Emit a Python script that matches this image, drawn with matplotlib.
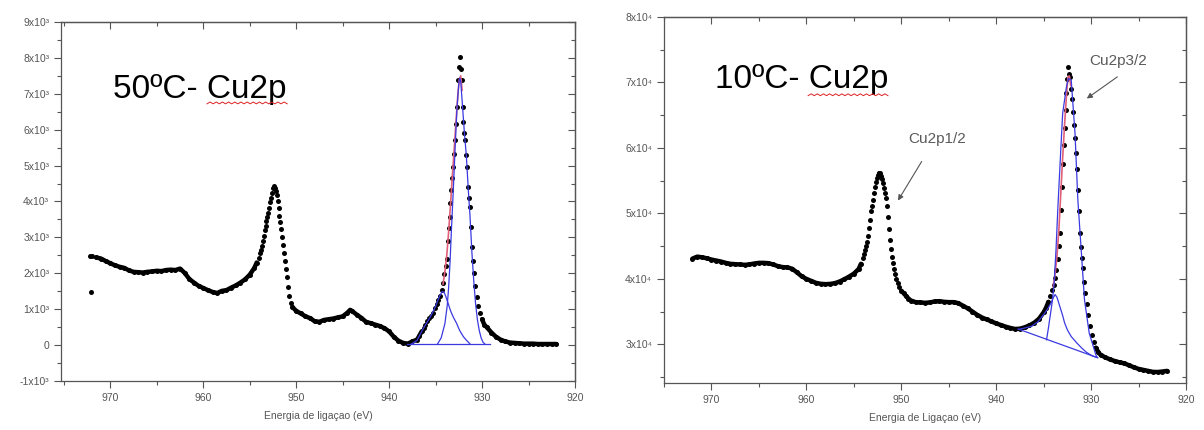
import numpy as np
import matplotlib.pyplot as plt
from matplotlib.ticker import MultipleLocator, FuncFormatter

plt.rcParams['font.family'] = ['Liberation Sans', 'DejaVu Sans']

# ---- 50 C : espectro Cu2p ----
e50 = [972.2, 972.1, 972.0, 971.5, 971.0, 970.5, 970.0, 969.5, 969.0, 968.5, 968.0,
       967.5, 967.0, 966.5, 966.0, 965.5, 965.0, 964.5, 964.0, 963.5, 963.0, 962.5,
       962.0, 961.5, 961.0, 960.5, 960.0, 959.5, 959.0, 958.5, 958.0, 957.5, 957.0,
       956.5, 956.0, 955.5, 955.0, 954.5, 954.25, 954.0,
       953.9, 953.8, 953.7, 953.6, 953.5, 953.4, 953.3, 953.2, 953.1, 953.0, 952.9,
       952.8, 952.7, 952.6, 952.5, 952.4, 952.3, 952.2, 952.1, 952.0, 951.9, 951.8,
       951.7, 951.6, 951.5, 951.4, 951.3, 951.2, 951.1, 951.0, 950.9, 950.8, 950.6, 950.4,
       950.0, 949.5, 949.0, 948.5, 948.0, 947.5, 947.0, 946.5, 946.0, 945.5, 945.0,
       944.5, 944.2, 944.0, 943.5, 943.0, 942.5, 942.0, 941.5, 941.0, 940.5, 940.0,
       939.5, 939.0, 938.5, 938.0, 937.5, 937.0, 936.75, 936.5,
       936.3, 936.1, 935.9, 935.7, 935.5, 935.3, 935.1, 934.9, 934.7, 934.5, 934.35,
       934.2, 934.05, 933.9, 933.8, 933.7, 933.6, 933.5, 933.4, 933.3, 933.2, 933.1,
       933.0, 932.9, 932.8, 932.7, 932.6, 932.5, 932.4, 932.3, 932.2, 932.1, 932.0,
       931.9, 931.8, 931.7, 931.6, 931.5, 931.4, 931.3, 931.2, 931.1, 931.0, 930.9,
       930.75, 930.6, 930.4, 930.2, 930.0, 929.75, 929.5, 929.0, 928.5, 928.0, 927.5,
       927.0, 926.5, 926.0, 925.5, 925.0, 924.5, 924.0, 923.5, 923.0, 922.5, 922.0]
i50 = [2480, 1480, 2470, 2440, 2410, 2340, 2280, 2220, 2180, 2150, 2080,
       2040, 2030, 2020, 2040, 2050, 2070, 2060, 2090, 2100, 2090, 2130,
       2010, 1840, 1740, 1650, 1590, 1530, 1480, 1450, 1510, 1530, 1600,
       1660, 1740, 1830, 1960, 2150, 2300, 2420,
       2560, 2650, 2760, 2900, 3050, 3200, 3330, 3450, 3560, 3680, 3830,
       3980, 4110, 4240, 4380, 4430, 4370, 4280, 4180, 4000, 3820, 3600,
       3420, 3220, 3000, 2780, 2560, 2340, 2110, 1900, 1620, 1360, 1170, 1060,
       950, 880, 800, 750, 660, 650, 700, 720, 740, 770, 800,
       900, 980, 950, 850, 760, 650, 610, 570, 530, 470, 380,
       230, 120, 60, 40, 100, 150, 260, 380,
       470, 560, 680, 760, 820, 900, 1030, 1150, 1250, 1360, 1530,
       1730, 1980, 2200, 2400, 2900, 3250, 3570, 3950, 4320, 4650, 4960,
       5330, 5710, 6150, 6630, 7380, 7750, 8030, 7700, 7380, 6630, 6200,
       5900, 5710, 5300, 4960, 4400, 4100, 3850, 3290, 2730, 2350, 2010,
       1650, 1340, 1100, 890, 720, 560, 500, 350, 230, 150, 100,
       70, 60, 50, 40, 40, 40, 30, 30, 30, 30, 30]

# componentes do ajuste (50 C)
e50_main = [934.8, 934.4, 934.0, 933.75, 933.6, 933.45, 933.3, 933.1, 932.9, 932.7,
            932.5, 932.4, 932.3, 932.1, 931.9, 931.7, 931.5, 931.3, 931.1, 930.9,
            930.7, 930.5, 930.3, 930.1, 929.9, 929.7]
i50_main = [30, 200, 600, 1100, 1600, 2300, 3200, 4300, 5500, 6600,
            7300, 7440, 7350, 6630, 5900, 5300, 4400, 3600, 2600, 1800,
            1150, 700, 400, 200, 80, 30]
e50_sat = [937.6, 937.0, 936.5, 936.0, 935.5, 935.0, 934.6, 934.3, 934.1, 933.9, 933.65,
           933.4, 933.1, 932.75, 932.4, 932.0, 931.7, 931.3]
i50_sat = [30, 130, 380, 600, 820, 1080, 1350, 1490, 1480, 1350, 1160,
           960, 780, 610, 400, 230, 140, 30]
e50_base = [938.1, 929.2]
i50_base = [30, 30]
e50_fit = [934.2, 934.0, 933.8, 933.6, 933.4, 933.2, 933.0, 932.8, 932.6, 932.45, 932.3, 932.15]
i50_fit = [1700, 2050, 2500, 3150, 3900, 4700, 5450, 6250, 7000, 7400, 7500, 7100]

# ---- 10 C : espectro Cu2p ----
e10 = [972.0, 971.5, 971.0, 970.5, 970.0, 969.5, 969.0, 968.5, 968.0, 967.5, 967.0,
       966.5, 966.0, 965.5, 965.0, 964.5, 964.0, 963.5, 963.0, 962.5, 962.0, 961.5,
       961.0, 960.5, 960.0, 959.5, 959.0, 958.5, 958.0, 957.5, 957.0, 956.5, 956.0,
       955.5, 955.0, 954.5, 954.25, 954.0,
       953.9, 953.8, 953.7, 953.6, 953.5, 953.4, 953.3, 953.2, 953.1, 953.0, 952.9,
       952.8, 952.7, 952.6, 952.5, 952.4, 952.3, 952.2, 952.1, 952.0, 951.9, 951.8,
       951.7, 951.6, 951.5, 951.4, 951.3, 951.2, 951.1, 951.0, 950.9, 950.8, 950.7,
       950.55, 950.4, 950.2, 950.0, 949.75, 949.5, 949.25, 949.0,
       948.5, 948.0, 947.5, 947.0, 946.5, 946.0, 945.5, 945.0, 944.5, 944.0, 943.5,
       943.0, 942.5, 942.0, 941.5, 941.0, 940.5, 940.0, 939.5, 939.0, 938.5, 938.0,
       937.5, 937.0, 936.5, 936.0, 935.5, 935.0, 934.75, 934.5, 934.3, 934.1, 933.95,
       933.8, 933.65, 933.5, 933.4, 933.3, 933.2, 933.1, 933.0, 932.9, 932.8, 932.7,
       932.6, 932.5, 932.4, 932.3, 932.2, 932.1, 932.0, 931.9, 931.8, 931.7, 931.6,
       931.5, 931.4, 931.3, 931.2, 931.1, 931.0, 930.9, 930.75, 930.6, 930.45, 930.3,
       930.1, 929.9, 929.7, 929.5, 929.25, 929.0, 928.5, 928.0, 927.5, 927.0, 926.5,
       926.0, 925.5, 925.0, 924.5, 924.0, 923.5, 923.0, 922.5, 922.0]
i10 = [43100, 43400, 43300, 43150, 42950, 42800, 42650, 42450, 42300, 42250, 42200,
       42150, 42200, 42350, 42450, 42450, 42400, 42200, 41950, 41800, 41750, 41550,
       41000, 40400, 40000, 39700, 39400, 39250, 39200, 39230, 39350, 39600, 39950,
       40350, 40800, 41500, 42300, 43200,
       43800, 44400, 45000, 45600, 46600, 47800, 49000, 50300, 51200, 52100, 53100,
       54000, 54800, 55400, 55900, 56150, 56200, 56100, 55700, 55200, 54600, 53900,
       53100, 52300, 51200, 49500, 47600, 45900, 44500, 43300, 42400, 41500, 40800,
       40000, 39300, 38700, 38200, 37800, 37400, 37000, 36700,
       36450, 36400, 36350, 36400, 36550, 36600, 36500, 36450, 36450, 36300, 35900,
       35500, 35000, 34500, 34100, 33800, 33500, 33200, 32950, 32700, 32500, 32350,
       32400, 32600, 32900, 33300, 33900, 34900, 35600, 36500, 37400, 38300, 39100,
       40100, 41300, 43000, 45000, 47000, 50500, 54000, 57500, 60500, 63000, 65800,
       68400, 70500, 72400, 71300, 70800, 69000, 67500, 65500, 63500, 61500, 59300,
       56800, 53500, 50300, 47000, 44800, 43200, 41600, 39600, 37800, 36200, 34500,
       32800, 31500, 30300, 29500, 28800, 28400, 28000, 27700, 27450, 27250, 27100,
       26800, 26500, 26250, 26100, 25950, 25800, 25780, 25850, 25950]

e10_main = [934.7, 934.5, 934.3, 934.1, 933.9, 933.7, 933.5, 933.2, 933.0, 932.6, 932.4,
            932.1, 931.7, 931.4, 931.0, 930.7, 930.2, 929.5, 929.35]
i10_main = [30700, 32500, 34500, 36500, 39300, 44500, 51000, 59690, 65290, 69360, 70600,
            70380, 62240, 52060, 43400, 36790, 31700, 28390, 28000]
e10_sat = [937.6, 937.0, 936.3, 935.6, 934.9, 934.5, 934.2, 934.0, 933.8, 933.6, 933.3,
           933.0, 932.8, 932.5, 932.1, 931.5, 931.0, 930.5, 929.9, 929.5]
i10_sat = [32300, 32500, 32750, 33450, 34750, 35600, 36400, 37100, 37600, 37200, 35800,
           34400, 33300, 32200, 31200, 30200, 29450, 28800, 28250, 28050]
e10_base = [937.7, 929.3]
i10_base = [32350, 27950]
e10_fit = [934.0, 933.8, 933.6, 933.4, 933.2, 933.0, 932.8, 932.6, 932.45, 932.3, 932.15]
i10_fit = [38800, 40700, 43500, 47500, 53000, 58500, 63500, 68000, 70800, 71000, 69500]

fig = plt.figure(figsize=(12.04, 4.3), dpi=100)
ax1 = fig.add_axes([0.0507, 0.114, 0.4269, 0.8349])
ax2 = fig.add_axes([0.5515, 0.1093, 0.4336, 0.8512])

cinza = '#555555'
azul = '#3a3ae0'
vermelho = '#e0607a'


def eixo(ax, xmin, ylim, ymaj, ymin, fmt, xlabel):
    ax.set_xlim(xmin, 920)
    ax.set_ylim(*ylim)
    ax.xaxis.set_major_locator(MultipleLocator(10))
    ax.xaxis.set_minor_locator(MultipleLocator(5))
    ax.yaxis.set_major_locator(MultipleLocator(ymaj))
    ax.yaxis.set_minor_locator(MultipleLocator(ymin))
    ax.yaxis.set_major_formatter(FuncFormatter(fmt))
    for s in ax.spines.values():
        s.set_color(cinza)
        s.set_linewidth(0.9)
    ax.tick_params(which='both', direction='out', color=cinza, labelcolor=cinza,
                   width=0.8, labelsize=7.5)
    ax.tick_params(which='major', length=5)
    ax.tick_params(which='minor', length=3)
    # ticks para dentro no topo e na direita (estilo Origin)
    top = ax.secondary_xaxis('top')
    top.xaxis.set_major_locator(MultipleLocator(10))
    top.xaxis.set_minor_locator(MultipleLocator(5))
    top.tick_params(which='both', direction='in', labeltop=False, color=cinza, width=0.8)
    top.tick_params(which='major', length=5)
    top.tick_params(which='minor', length=3)
    right = ax.secondary_yaxis('right')
    right.yaxis.set_major_locator(MultipleLocator(ymaj))
    right.yaxis.set_minor_locator(MultipleLocator(ymin))
    right.tick_params(which='both', direction='in', labelright=False, color=cinza, width=0.8)
    right.tick_params(which='major', length=5)
    right.tick_params(which='minor', length=3)
    for sec in (top, right):
        for s in sec.spines.values():
            s.set_color(cinza)
            s.set_linewidth(0.9)
    ax.set_xlabel(xlabel, fontsize=7.5, color=cinza, labelpad=6)


def f3(v, p):
    if abs(v) < 1e-6:
        return '0'
    return f'{int(round(v / 1000))}x10\u00b3'


def f4(v, p):
    return f'{int(round(v / 10000))}x10\u2074'


def pontos(ax, e, i):
    e = np.array(e)
    i = np.array(i, dtype=float)
    # nas regioes de fundo os pontos ficam colados, parecendo uma linha grossa
    d = np.abs(np.diff(e))
    passo = np.minimum(np.r_[d, np.inf], np.r_[np.inf, d])
    fundo = np.ma.masked_where(passo < 0.2, i)
    ax.plot(e, fundo, color='black', lw=3.2, solid_capstyle='round', zorder=2)
    ax.plot(e, i, 'o', color='black', ms=3.6, mew=0, zorder=2)


eixo(ax1, 975.3, (-1000, 9000), 1000, 500, f3, 'Energia de ligaçao (eV)')
eixo(ax2, 975.0, (24100, 80000), 10000, 5000, f4, 'Energia de Ligaçao (eV)')

for ax, e, i, em, im, es, is_, eb, ib, ef, if_ in [
        (ax1, e50, i50, e50_main, i50_main, e50_sat, i50_sat, e50_base, i50_base, e50_fit, i50_fit),
        (ax2, e10, i10, e10_main, i10_main, e10_sat, i10_sat, e10_base, i10_base, e10_fit, i10_fit)]:
    pontos(ax, e, i)
    ax.plot(ef, if_, color=vermelho, lw=1.2, zorder=3)
    ax.plot(em, im, color=azul, lw=0.9, zorder=4)
    ax.plot(es, is_, color=azul, lw=0.9, zorder=4)
    ax.plot(eb, ib, color=azul, lw=0.9, zorder=4)

# titulos dentro dos graficos, com o sublinhado vermelho do corretor
ax1.text(0.101, 0.788, '50ºC- Cu2p', transform=ax1.transAxes, fontsize=24,
         ha='left', va='baseline', color='black')
ax2.text(0.098, 0.806, '10ºC- Cu2p', transform=ax2.transAxes, fontsize=24,
         ha='left', va='baseline', color='black')
for ax, x0, x1, y0 in [(ax1, 0.284, 0.440, 0.772), (ax2, 0.276, 0.429, 0.785)]:
    xs = np.linspace(x0, x1, 27)
    ys = y0 + 0.005 * (np.arange(27) % 2)
    ax.plot(xs, ys, color='#dd2222', lw=0.7, transform=ax.transAxes, zorder=5)

# anotacoes dos picos
ax2.text(946.2, 61400, 'Cu2p1/2', ha='center', va='center', fontsize=11, color='#5a5a5a')
ax2.annotate('', xy=(950.5, 51600), xytext=(947.7, 58300),
             arrowprops=dict(arrowstyle='-|>', color='#555555', lw=0.8, mutation_scale=8))
ax2.text(927.2, 73300, 'Cu2p3/2', ha='center', va='center', fontsize=11, color='#5a5a5a')
ax2.annotate('', xy=(930.7, 67300), xytext=(927.0, 71100),
             arrowprops=dict(arrowstyle='-|>', color='#555555', lw=0.8, mutation_scale=8))

fig.savefig('out.png', dpi=100)
